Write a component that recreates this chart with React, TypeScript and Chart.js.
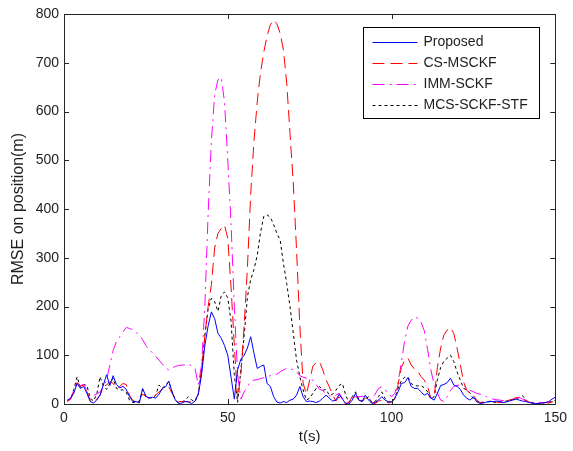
import React, { useEffect, useRef } from "react";
import { Chart, registerables } from "chart.js";

Chart.register(...registerables);

const times = [
  1, 2, 3, 4, 5, 6, 7, 8, 9, 10, 11, 12, 13, 14, 15, 16, 17, 18, 19, 20,
  21, 22, 23, 24, 25, 26, 27, 28, 29, 30, 31, 32, 33, 34, 35, 36, 37, 38, 39, 40,
  41, 42, 43, 44, 45, 46, 47, 48, 49, 50, 51, 52, 53, 54, 55, 56, 57, 58, 59, 60,
  61, 62, 63, 64, 65, 66, 67, 68, 69, 70, 71, 72, 73, 74, 75, 76, 77, 78, 79, 80,
  81, 82, 83, 84, 85, 86, 87, 88, 89, 90, 91, 92, 93, 94, 95, 96, 97, 98, 99, 100,
  101, 102, 103, 104, 105, 106, 107, 108, 109, 110, 111, 112, 113, 114, 115, 116, 117, 118, 119, 120,
  121, 122, 123, 124, 125, 126, 127, 128, 129, 130, 131, 132, 133, 134, 135, 136, 137, 138, 139, 140,
  141, 142, 143, 144, 145, 146, 147, 148, 149, 150,
];

const proposed = [
  8, 12, 22, 42, 32, 36, 22, 5, 2, 8, 18, 39, 60, 38, 58, 40, 33, 36, 30, 15,
  5, 5, 2, 32, 16, 12, 14, 12, 20, 32, 35, 47, 25, 8, 1, 2, 5, 4, 1, 6,
  20, 60, 120, 160, 189, 175, 145, 135, 120, 100, 55, 10, 70, 92, 100, 115, 138, 104, 73, 77,
  80, 42, 36, 15, 4, 2, 5, 3, 8, 10, 18, 36, 15, 5, 6, 5, 3, 6, 12, 18,
  12, 6, 8, 20, 10, 1, 0, 8, 22, 8, 5, 18, 8, 1, 3, 8, 15, 8, 5, 4,
  12, 25, 42, 44, 54, 36, 32, 32, 25, 18, 22, 12, 8, 22, 38, 40, 44, 53, 39, 36,
  30, 18, 12, 8, 15, 5, 1, 2, 4, 5, 5, 6, 5, 3, 4, 6, 8, 10, 8, 6,
  5, 3, 2, 1, 1, 2, 3, 5, 10, 14,
];

const csMsckf = [
  6, 10, 25, 44, 36, 39, 25, 8, 3, 10, 18, 36, 39, 46, 42, 32, 36, 42, 40, 18,
  7, 5, 10, 20, 16, 11, 12, 18, 25, 30, 34, 35, 22, 10, 5, 5, 5, 5, 4, 8,
  20, 70, 140, 200, 245, 320, 350, 360, 367, 340, 240, 120, 10, 60, 160, 280, 430, 540, 620, 680,
  722, 755, 778, 788, 780, 760, 726, 658, 555, 453, 316, 160, 43, 20, 49, 78, 85, 87, 70, 50,
  35, 20, 6, 15, 5, 1, 3, 15, 18, 8, 6, 12, 8, 3, 1, 6, 8, 6, 2, 4,
  10, 40, 75, 90, 94, 80, 72, 68, 56, 49, 36, 12, 15, 75, 115, 142, 152, 157, 145, 115,
  80, 45, 28, 22, 18, 8, 3, 4, 5, 6, 5, 4, 3, 5, 6, 8, 10, 13, 12, 9,
  7, 4, 2, 1, 1, 2, 3, 2, 4, 8,
];

const immSckf = [
  6, 10, 28, 45, 38, 40, 28, 15, 18, 20, 25, 35, 50, 80, 110, 128, 138, 148, 157, 155,
  152, 147, 142, 132, 120, 112, 105, 98, 90, 82, 74, 70, 74, 77, 79, 80, 80, 82, 78, 73,
  39, 80, 200, 390, 540, 635, 665, 670, 620, 500, 370, 200, 60, 10, 25, 35, 47, 49, 50, 52,
  54, 56, 58, 60, 61, 66, 70, 73, 73, 70, 66, 58, 55, 53, 51, 49, 40, 30, 28, 20,
  17, 15, 18, 22, 12, 5, 4, 12, 15, 15, 16, 14, 9, 11, 20, 32, 35, 30, 20, 15,
  22, 45, 85, 130, 160, 172, 179, 176, 168, 150, 112, 70, 40, 22, 8, 5, 15, 28, 36, 38,
  39, 38, 33, 28, 25, 22, 20, 18, 15, 12, 10, 9, 8, 7, 6, 8, 10, 12, 13, 10,
  8, 5, 3, 3, 3, 3, 3, 4, 6, 8,
];

const mcsSckfStf = [
  6, 10, 30, 56, 34, 40, 38, 12, 6, 20, 56, 37, 30, 42, 53, 32, 29, 29, 24, 8,
  3, 3, 6, 29, 15, 13, 12, 18, 39, 32, 39, 46, 25, 8, 3, 4, 8, 15, 8, 5,
  20, 70, 140, 195, 217, 210, 190, 222, 230, 218, 170, 60, 3, 70, 140, 220, 255, 276, 305, 352,
  385, 388, 383, 368, 350, 336, 288, 247, 200, 145, 90, 56, 29, 8, 12, 22, 32, 36, 28, 30,
  18, 20, 28, 38, 42, 18, 3, 15, 25, 10, 6, 10, 15, 3, 5, 15, 25, 12, 4, 5,
  12, 32, 48, 55, 55, 42, 38, 37, 38, 33, 25, 10, 15, 50, 75, 88, 94, 100, 87, 66,
  49, 32, 29, 22, 10, 5, 3, 3, 4, 5, 4, 3, 4, 5, 6, 8, 9, 10, 14, 17,
  8, 3, 2, 1, 1, 2, 3, 3, 5, 8,
];

const seriesLabels = ["Proposed", "CS-MSCKF", "IMM-SCKF", "MCS-SCKF-STF"];
const seriesColors = ["#0000ff", "#ff0000", "#ff00ff", "#000000"];
const seriesDashes: number[][] = [[], [12, 6], [12, 5, 2, 5], [3, 3]];
const xTickValues = [0, 50, 100, 150];
const yTickValues = [0, 100, 200, 300, 400, 500, 600, 700, 800];
const xTitle = "t(s)";
const yTitle = "RMSE on position(m)";

const FONT = "Arial, 'Liberation Sans', sans-serif";
const TEXT_COLOR = "#1e1e1e";

const framePlugin = {
  id: "matlabFrame",
  afterDatasetsDraw(chart: any) {
    const { ctx, chartArea, scales } = chart;
    const { left, right, top, bottom } = chartArea;
    ctx.save();
    ctx.strokeStyle = "#262626";
    ctx.lineWidth = 1;
    ctx.setLineDash([]);
    ctx.beginPath();
    ctx.rect(Math.round(left) + 0.5, Math.round(top) + 0.5, Math.round(right - left), Math.round(bottom - top));
    ctx.stroke();
    const tl = 5;
    ctx.beginPath();
    for (const v of xTickValues) {
      const x = Math.round(scales.x.getPixelForValue(v)) + 0.5;
      ctx.moveTo(x, bottom);
      ctx.lineTo(x, bottom - tl);
      ctx.moveTo(x, top);
      ctx.lineTo(x, top + tl);
    }
    for (const v of yTickValues) {
      const y = Math.round(scales.y.getPixelForValue(v)) + 0.5;
      ctx.moveTo(left, y);
      ctx.lineTo(left + tl, y);
      ctx.moveTo(right, y);
      ctx.lineTo(right - tl, y);
    }
    ctx.stroke();

    // legend box
    const boxW = 176;
    const boxH = 91;
    const bx = Math.round(right - 16 - boxW) + 0.5;
    const by = Math.round(top + 13) + 0.5;
    ctx.fillStyle = "#ffffff";
    ctx.fillRect(bx, by, boxW, boxH);
    ctx.strokeStyle = "#000000";
    ctx.strokeRect(bx, by, boxW, boxH);
    ctx.font = `14px ${FONT}`;
    ctx.textBaseline = "middle";
    ctx.textAlign = "left";
    chart.data.datasets.forEach((ds: any, i: number) => {
      const y = Math.round(by + 14 + i * 21) + 0.5;
      ctx.strokeStyle = seriesColors[i];
      ctx.lineWidth = 1;
      ctx.setLineDash(seriesDashes[i]);
      ctx.beginPath();
      ctx.moveTo(bx + 9, y);
      ctx.lineTo(bx + 54, y);
      ctx.stroke();
      ctx.setLineDash([]);
      ctx.fillStyle = TEXT_COLOR;
      ctx.fillText(ds.label, bx + 60, y);
    });
    ctx.restore();
  },
};

export default function App() {
  const canvasRef = useRef<HTMLCanvasElement | null>(null);

  useEffect(() => {
    if (!canvasRef.current) return;
    const allSeries = [proposed, csMsckf, immSckf, mcsSckfStf];
    const chart = new Chart(canvasRef.current, {
      type: "line",
      data: {
        datasets: allSeries.map((vals, i) => ({
          label: seriesLabels[i],
          data: times.map((t, j) => ({ x: t, y: vals[j] })),
          borderColor: seriesColors[i],
          backgroundColor: seriesColors[i],
          borderDash: seriesDashes[i],
          borderWidth: 1,
          pointRadius: 0,
          tension: 0,
          fill: false,
        })),
      },
      options: {
        responsive: false,
        animation: false,
        devicePixelRatio: 1,
        layout: { padding: { top: 14, right: 13, left: 0, bottom: 0 } },
        plugins: {
          legend: { display: false },
          tooltip: { enabled: false },
        },
        scales: {
          x: {
            type: "linear",
            min: 0,
            max: 150,
            afterFit: (scale: any) => {
              scale.height = 47;
            },
            afterBuildTicks: (scale: any) => {
              scale.ticks = xTickValues.map((v) => ({ value: v }));
            },
            grid: { display: false, drawTicks: false },
            border: { display: false },
            ticks: {
              padding: 6,
              color: TEXT_COLOR,
              font: { size: 14, family: FONT },
              maxRotation: 0,
            },
            title: {
              display: true,
              text: xTitle,
              color: TEXT_COLOR,
              font: { size: 15, family: FONT },
              padding: { top: 0, bottom: 5 },
            },
          },
          y: {
            type: "linear",
            min: 0,
            max: 800,
            afterFit: (scale: any) => {
              scale.width = 64;
            },
            afterBuildTicks: (scale: any) => {
              scale.ticks = yTickValues.map((v) => ({ value: v }));
            },
            grid: { display: false, drawTicks: false },
            border: { display: false },
            ticks: {
              padding: 5,
              color: TEXT_COLOR,
              font: { size: 14, family: FONT },
            },
            title: {
              display: true,
              text: yTitle,
              color: TEXT_COLOR,
              font: { size: 16, family: FONT },
              padding: { top: 9, bottom: 0 },
            },
          },
        },
      },
      plugins: [framePlugin],
    });
    return () => chart.destroy();
  }, []);

  return (
    <div style={{ position: "absolute", left: 0, top: 0, width: 573, height: 451, background: "#ffffff" }}>
      <canvas ref={canvasRef} width={573} height={451} />
    </div>
  );
}
